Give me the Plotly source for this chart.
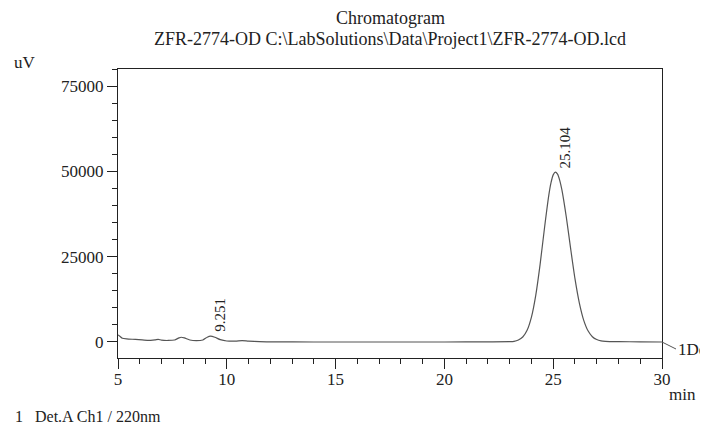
import plotly.graph_objects as go

# Retention time (min) and detector signal (uV)
time_min = [5.0, 5.1, 5.2, 5.4, 5.8, 6.2, 6.5, 6.7, 6.85, 7.0, 7.3, 7.6, 7.8, 7.9, 8.05,
            8.3, 8.6, 8.9, 9.1, 9.25, 9.45, 9.7, 10.0, 10.4, 10.7, 11.0, 11.5, 12.0, 14.0,
            16.0, 18.0, 20.0, 22.0, 23.0, 23.2, 23.4, 23.6, 23.8, 24.0, 24.2, 24.4, 24.6,
            24.8, 24.9, 25.0, 25.1, 25.2, 25.3, 25.4, 25.6, 25.8, 26.0, 26.2, 26.4, 26.6,
            26.8, 27.0, 27.2, 27.4, 27.6, 28.0, 29.0, 30.0]
signal_uv = [2000, 1500, 1000, 800, 650, 450, 400, 500, 700, 450, 350, 500, 1100, 1300, 1100,
             500, 300, 500, 1300, 1600, 1300, 600, 200, 150, 300, 150, 0, -50, -100,
             -100, -100, -100, -50, 0, 100, 500, 1370, 3350, 7220, 13700, 22800, 33400,
             43100, 46700, 49000, 49800, 49200, 47400, 44600, 36700, 27400, 18500, 11400, 6340, 3190,
             1460, 610, 230, 80, 30, 0, -50, -100]

peak_times = [9.251, 25.104]
peak_heights = [1600, 49800]
peak_labels = ["9.251", "25.104"]

x_ticks = [5, 10, 15, 20, 25, 30]
y_ticks = [0, 25000, 50000, 75000]

FONT = "Liberation Serif, Times New Roman, serif"
TXT = "#222222"

fig = go.Figure()
fig.add_trace(go.Scatter(x=time_min, y=signal_uv, mode="lines",
                         line=dict(color="#555555", width=1.2, shape="spline", smoothing=0.6),
                         hoverinfo="skip", showlegend=False))

annotations = []
for t, h, lab in zip(peak_times, peak_heights, peak_labels):
    annotations.append(dict(x=t, y=h, text=lab, textangle=-90, showarrow=False,
                            xanchor="center", yanchor="bottom", yshift=2, xshift=10,
                            font=dict(family=FONT, size=15, color=TXT)))

annotations += [
    dict(xref="paper", yref="paper", x=0.5, y=1.176, text="Chromatogram", showarrow=False,
         xanchor="center", yanchor="middle", font=dict(family=FONT, size=18, color=TXT)),
    dict(xref="paper", yref="paper", x=0.5, y=1.105,
         text="ZFR-2774-OD C:\\LabSolutions\\Data\\Project1\\ZFR-2774-OD.lcd", showarrow=False,
         xanchor="center", yanchor="middle", font=dict(family=FONT, size=18, color=TXT)),
    dict(xref="paper", yref="paper", x=-0.195, y=1.024, text="uV", showarrow=False,
         xanchor="left", yanchor="middle", font=dict(family=FONT, size=17, color=TXT)),
    dict(xref="paper", yref="paper", x=1.010, y=-0.125, text="min", showarrow=False,
         xanchor="left", yanchor="middle", font=dict(family=FONT, size=17, color=TXT)),
    dict(xref="paper", yref="paper", x=-0.193, y=-0.201, text="1&nbsp;&nbsp;&nbsp;Det.A Ch1 / 220nm",
         showarrow=False, xanchor="left", yanchor="middle",
         font=dict(family=FONT, size=16, color=TXT)),
    dict(x=30, y=-100, text="1Det.A Ch1", showarrow=True, arrowhead=0, arrowwidth=1,
         arrowcolor="#555555", ax=14, ay=7, xanchor="left", yanchor="middle",
         font=dict(family=FONT, size=17, color=TXT)),
]

fig.update_layout(
    width=708, height=427,
    margin=dict(l=110, r=54, t=61, b=77),
    paper_bgcolor="white", plot_bgcolor="white",
    font=dict(family=FONT, size=17, color=TXT),
    annotations=annotations,
)

fig.update_xaxes(range=[5, 30], tickvals=x_ticks, ticktext=[str(v) for v in x_ticks],
                 ticks="outside", ticklen=10, tickcolor="#222222", tickwidth=1,
                 ticklabelstandoff=-4,
                 minor=dict(dtick=1, ticks="outside", ticklen=5, tickcolor="#222222", tickwidth=1),
                 showgrid=False, zeroline=False, showline=True, linecolor="#222222", linewidth=1,
                 mirror=True, tickfont=dict(family=FONT, size=17, color=TXT))
fig.update_yaxes(range=[-4800, 80100], tickvals=y_ticks, ticktext=[str(v) for v in y_ticks],
                 ticks="outside", ticklen=10, tickcolor="#222222", tickwidth=1,
                 minor=dict(dtick=5000, ticks="outside", ticklen=5, tickcolor="#222222", tickwidth=1),
                 showgrid=False, zeroline=False, showline=True, linecolor="#222222", linewidth=1,
                 mirror=True, tickfont=dict(family=FONT, size=17, color=TXT))

fig.write_html("out.html")
